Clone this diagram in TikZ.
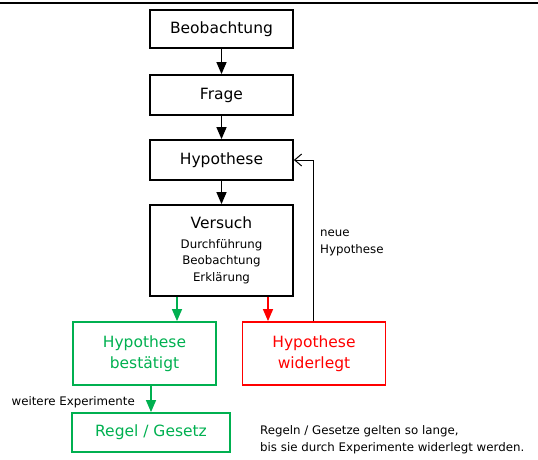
\documentclass[tikz,border=0pt]{standalone}
\usepackage{fontspec}
\setmainfont{DejaVu Sans}
\usetikzlibrary{arrows.meta}
\definecolor{okgreen}{RGB}{0,176,80}
\definecolor{okred}{RGB}{255,0,0}
\newcommand{\bigfnt}{\fontsize{15.5}{20}\selectfont}
\tikzset{
  box/.style={draw, line width=1.8pt, minimum width=143pt, inner sep=0pt, align=center, font=\fontsize{15.5}{21.5}\selectfont},
  gbox/.style={box, draw=okgreen, text=okgreen},
  rbox/.style={box, draw=okred, text=okred},
  flow/.style={line width=1.3pt, -{Triangle[length=12pt,width=10pt]}},
  small/.style={font=\fontsize{11.8}{17}\selectfont, inner sep=0pt},
}
\begin{document}
\begin{tikzpicture}[x=1pt,y=-1pt]
\useasboundingbox (0,0) rectangle (538,459);
\draw[line width=2pt] (0,3.3) -- (538,3.3);
\node[box, minimum height=38pt] (beo) at (221.5,29) {Beobachtung};
\node[box, minimum height=40pt] (fra) at (221.5,95) {Frage};
\node[box, minimum height=40pt] (hyp) at (221.5,160) {Hypothese};
\node[box, minimum height=91pt, font=\fontsize{11.8}{16.5}\selectfont] (ver) at (221.5,250.5) {{\bigfnt Versuch}\\[3pt]Durchführung\\Beobachtung\\Erklärung};
\node[gbox, minimum height=63pt] (best) at (144.5,353.5) {Hypothese\\bestätigt};
\node[rbox, minimum height=63pt] (wid) at (314,353.5) {Hypothese\\widerlegt};
\node[gbox, minimum width=158pt, minimum height=39pt] (reg) at (151,432.5) {Regel / Gesetz};
\draw[flow] (beo) -- (fra);
\draw[flow] (fra) -- (hyp);
\draw[flow] (hyp) -- (ver);
\draw[flow, draw=okgreen, fill=okgreen] (ver.south -| 177,0) -- (best.north -| 177,0);
\draw[flow, draw=okred, fill=okred] (ver.south -| 268,0) -- (wid.north -| 268,0);
\draw[line width=1pt, -{Straight Barb[length=7pt,width=12pt]}] (wid.north -| 313,0) |- (hyp.east);
\draw[flow, draw=okgreen, fill=okgreen] (best.south -| reg.north) -- (reg.north);
\node[small, anchor=west, align=left] (neu) at (320,242.5) {neue\\Hypothese};
\node[small, anchor=base east] (wex) at (135,405) {weitere Experimente};
\node[small, anchor=west, align=left] (note) at (260,439.5) {Regeln / Gesetze gelten so lange,\\bis sie durch Experimente widerlegt werden.};
\end{tikzpicture}
\end{document}
